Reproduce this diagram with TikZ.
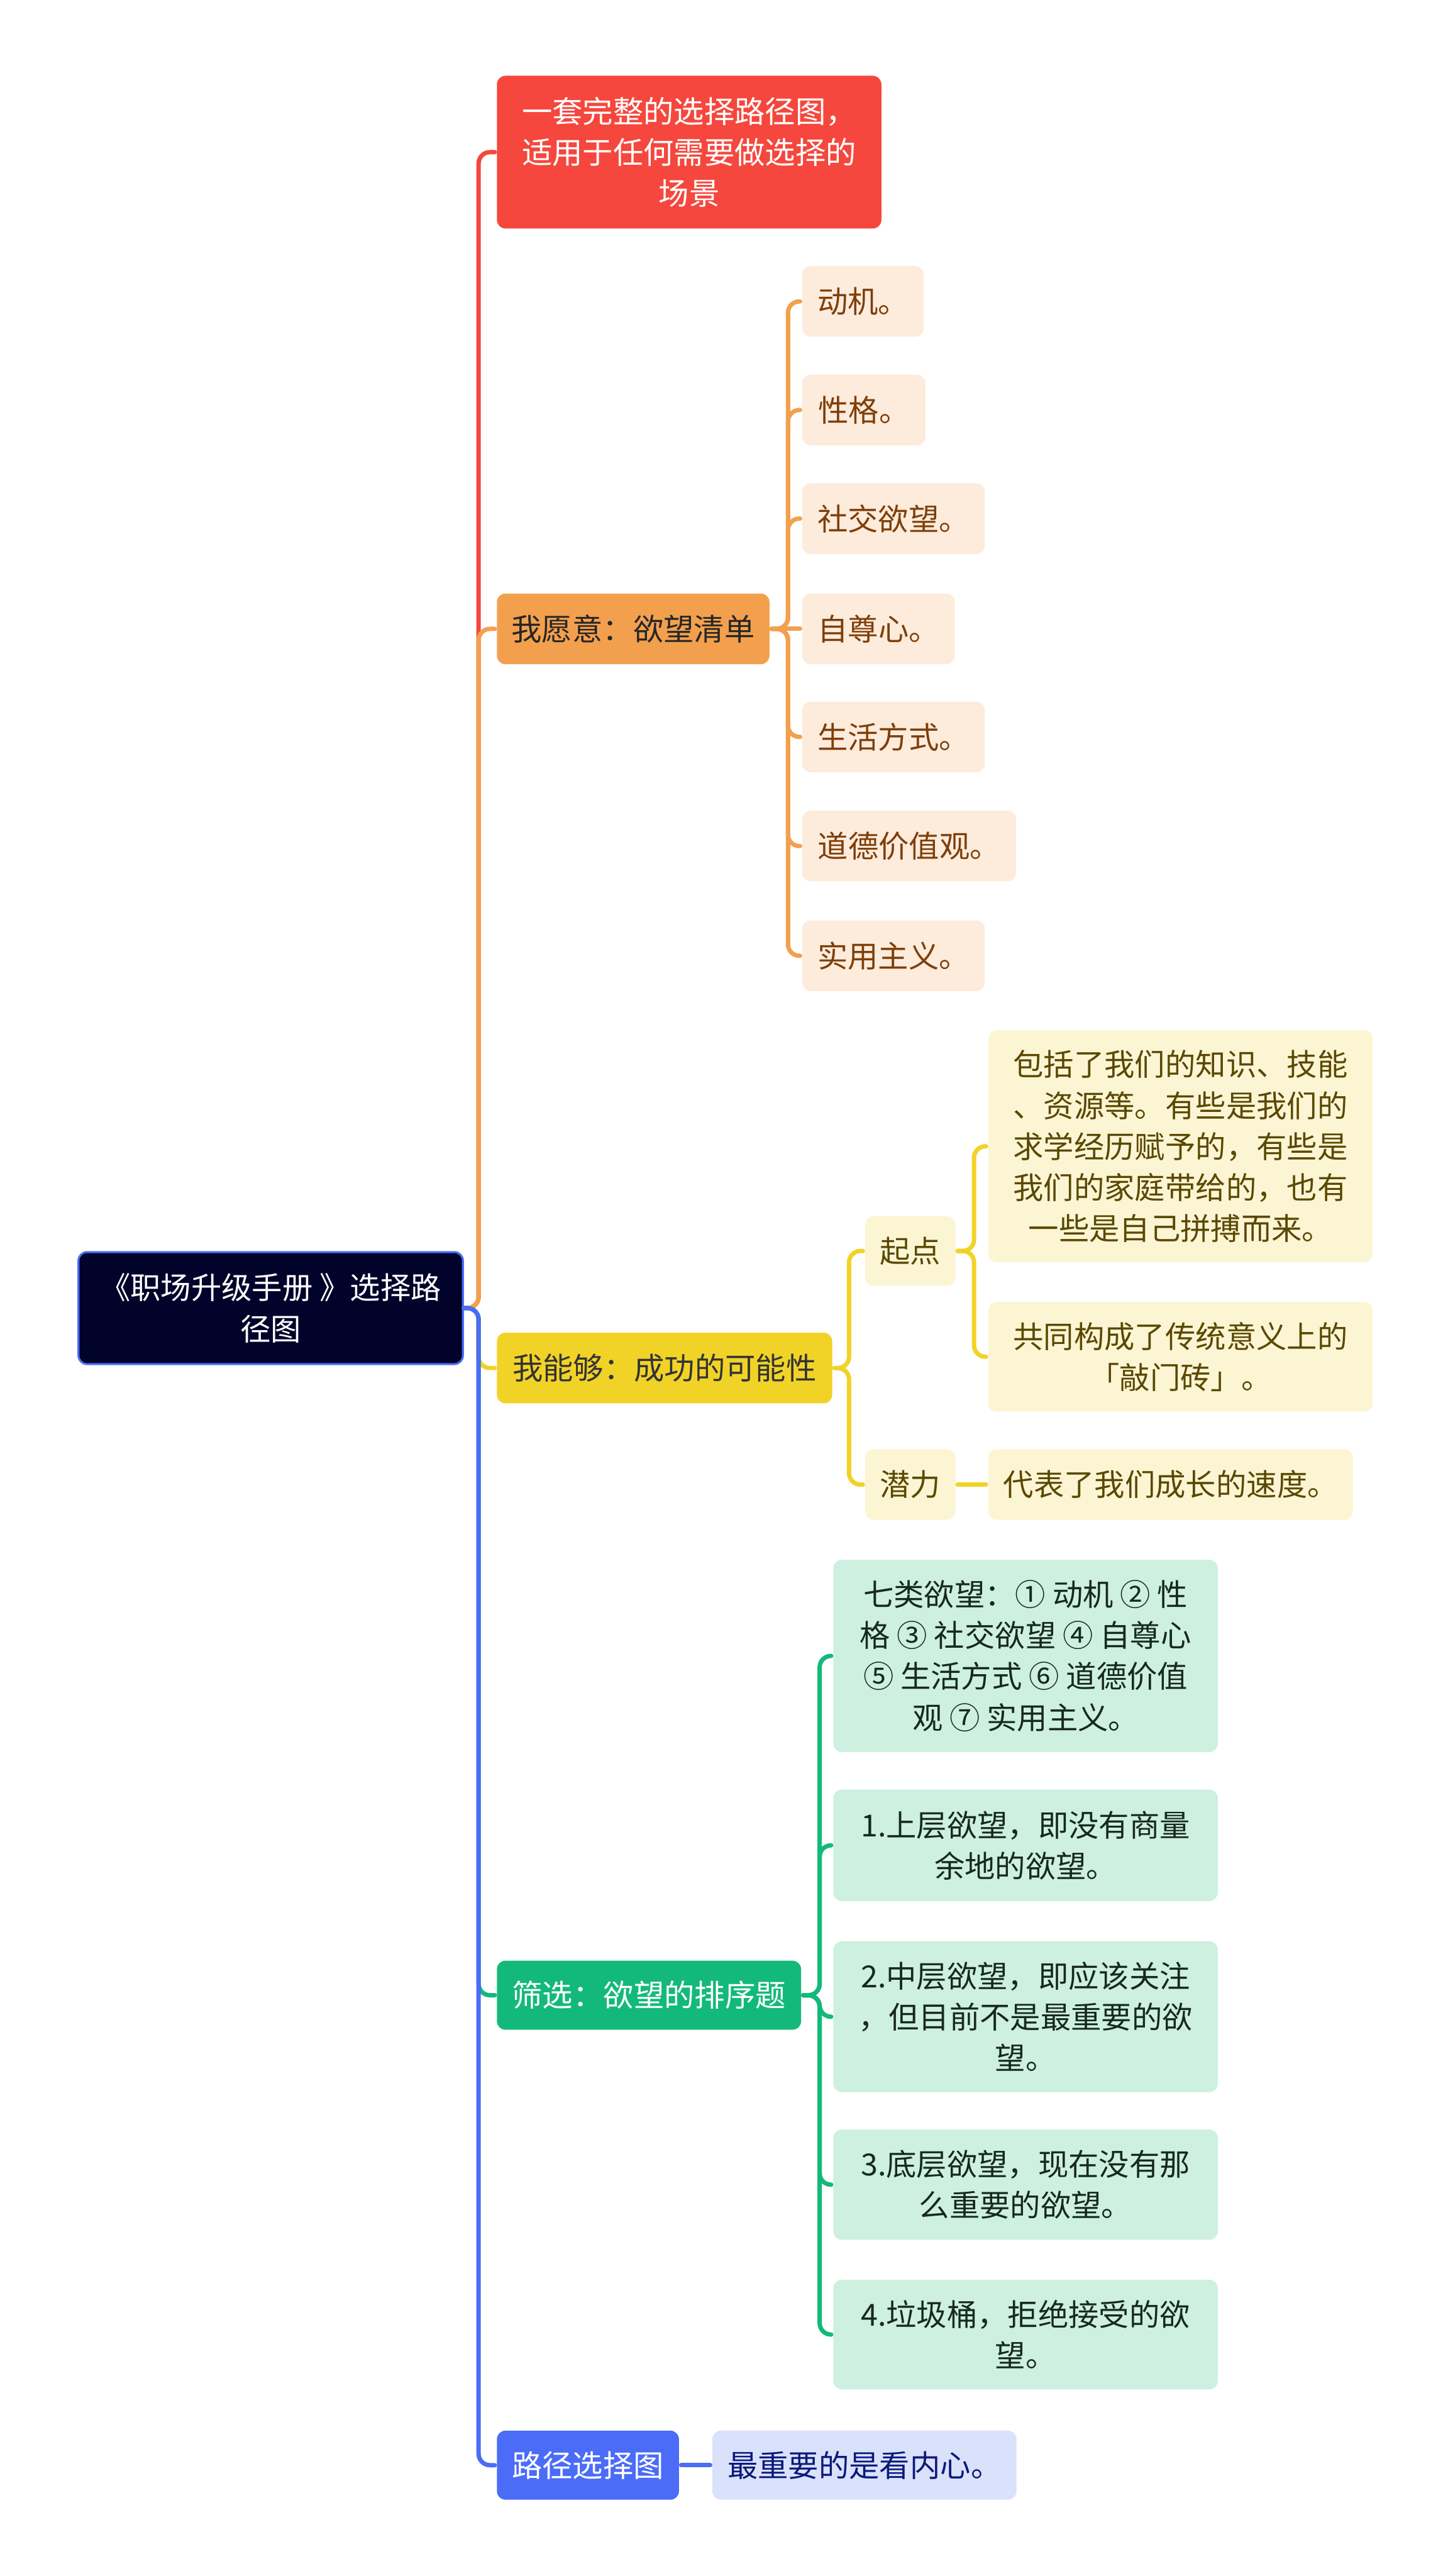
\documentclass[tikz,border=0pt]{standalone}
\usepackage{fontspec}
\newfontfamily\cjkfont{Noto Sans CJK SC}
\usepackage{tikz}
\usetikzlibrary{calc}
\definecolor{raiz}{HTML}{02032A}
\definecolor{rojo}{HTML}{F5473D}
\definecolor{naranja}{HTML}{F3A04E}
\definecolor{naranjaclaro}{HTML}{FDEBDC}
\definecolor{naranjatexto}{HTML}{7E3F0A}
\definecolor{amarillo}{HTML}{F1D327}
\definecolor{amarilloclaro}{HTML}{FBF5D4}
\definecolor{amarillotexto}{HTML}{5A4800}
\definecolor{verde}{HTML}{13B97B}
\definecolor{verdeclaro}{HTML}{CDF0E1}
\definecolor{verdetexto}{HTML}{17291F}
\definecolor{azul}{HTML}{4A6CF7}
\definecolor{azulclaro}{HTML}{DAE1FB}
\definecolor{azultexto}{HTML}{0B1A7A}

\begin{document}
\begin{tikzpicture}[line width=2.2pt,line cap=round,
  caja/.style={rounded corners=0.15cm,inner sep=0pt,align=center,anchor=west,
    font={\cjkfont\fontsize{15.3}{20.6}\selectfont}},
  rama/.style={rounded corners=0.2cm}]
  \useasboundingbox (0,0) rectangle (25.6,-45.55);
  % tema central
  \node[caja,fill=raiz,draw=azul,line width=1pt,text=white,minimum width=6.8cm,minimum height=1.98cm] (raiz) at (1.37,-23.13) {《职场升级手册 》选择路\\径图};
  % ramas principales
  \node[caja,fill=rojo,text=white,minimum width=6.8cm,minimum height=2.7cm] (titulo) at (8.75,-2.69) {一套完整的选择路径图，\\适用于任何需要做选择的\\场景};
  \node[caja,fill=naranja,text=black!85,minimum width=4.82cm,minimum height=1.25cm] (quiero) at (8.75,-11.12) {我愿意：欲望清单};
  \node[caja,fill=amarillo,text=black!80,minimum width=5.93cm,minimum height=1.25cm] (puedo) at (8.75,-24.19) {我能够：成功的可能性};
  \node[caja,fill=verde,text=white,minimum width=5.38cm,minimum height=1.22cm] (filtro) at (8.75,-35.28) {筛选：欲望的排序题};
  \node[caja,fill=azul,text=white,minimum width=3.22cm,minimum height=1.22cm] (camino) at (8.75,-43.59) {路径选择图};
  % deseos
  \foreach \n/\y/\w/\t in {d1/5.33/2.15/动机。,d2/7.25/2.18/性格。,d3/9.17/3.23/社交欲望。,d4/11.12/2.70/自尊心。,
      d5/13.03/3.23/生活方式。,d6/14.96/3.78/道德价值观。,d7/16.90/3.23/实用主义。}
    \node[caja,fill=naranjaclaro,text=naranjatexto,minimum width=\w cm,minimum height=1.25cm] (\n) at (14.15,-\y) {\t};
  % posibilidades
  \node[caja,fill=amarilloclaro,text=amarillotexto,minimum width=1.6cm,minimum height=1.23cm] (inicio) at (15.26,-22.12) {起点};
  \node[caja,fill=amarilloclaro,text=amarillotexto,minimum width=1.6cm,minimum height=1.25cm] (potencial) at (15.26,-26.25) {潜力};
  \node[caja,fill=amarilloclaro,text=amarillotexto,minimum width=6.8cm,minimum height=4.1cm] (inicio1) at (17.44,-20.27) {包括了我们的知识、技能\\、资源等。有些是我们的\\求学经历赋予的，有些是\\我们的家庭带给的，也有\\一些是自己拼搏而来。};
  \node[caja,fill=amarilloclaro,text=amarillotexto,minimum width=6.8cm,minimum height=1.94cm] (inicio2) at (17.44,-23.99) {共同构成了传统意义上的\\「敲门砖」。};
  \node[caja,fill=amarilloclaro,text=amarillotexto,minimum width=6.45cm,minimum height=1.25cm] (potencial1) at (17.44,-26.25) {代表了我们成长的速度。};
  % orden de deseos
  \node[caja,fill=verdeclaro,text=verdetexto,minimum width=6.8cm,minimum height=3.4cm] (f0) at (14.7,-29.28) {七类欲望：① 动机 ② 性\\格 ③ 社交欲望 ④ 自尊心\\⑤ 生活方式 ⑥ 道德价值\\观 ⑦ 实用主义。};
  \node[caja,fill=verdeclaro,text=verdetexto,minimum width=6.8cm,minimum height=1.97cm] (f1) at (14.7,-32.63) {1.上层欲望，即没有商量\\余地的欲望。};
  \node[caja,fill=verdeclaro,text=verdetexto,minimum width=6.8cm,minimum height=2.67cm] (f2) at (14.7,-35.66) {2.中层欲望，即应该关注\\，但目前不是最重要的欲\\望。};
  \node[caja,fill=verdeclaro,text=verdetexto,minimum width=6.8cm,minimum height=1.95cm] (f3) at (14.7,-38.63) {3.底层欲望，现在没有那\\么重要的欲望。};
  \node[caja,fill=verdeclaro,text=verdetexto,minimum width=6.8cm,minimum height=1.94cm] (f4) at (14.7,-41.28) {4.垃圾桶，拒绝接受的欲\\望。};
  \node[caja,fill=azulclaro,text=azultexto,minimum width=5.38cm,minimum height=1.22cm] (camino1) at (12.56,-43.59) {最重要的是看内心。};
  % conectores del tronco
  \draw[rama,rojo] (raiz.east) -- ++(0.26,0) |- (titulo.west);
  \draw[rama,naranja] (raiz.east) -- ++(0.26,0) |- (quiero.west);
  \draw[rama,amarillo] (raiz.east) -- ++(0.26,0) |- (puedo.west);
  \draw[rama,verde] (raiz.east) -- ++(0.26,0) |- (filtro.west);
  \draw[rama,azul] (raiz.east) -- ++(0.26,0) |- (camino.west);
  % conectores de las ramas
  \foreach \n in {d1,d2,d3,d5,d6,d7}
    \draw[rama,naranja] (quiero.east) -- ++(0.29,0) |- (\n.west);
  \draw[naranja] (quiero.east) -- (d4.west);
  \foreach \n in {inicio,potencial}
    \draw[rama,amarillo] (puedo.east) -- ++(0.26,0) |- (\n.west);
  \foreach \n in {inicio1,inicio2}
    \draw[rama,amarillo] (inicio.east) -- ++(0.29,0) |- (\n.west);
  \draw[amarillo] (potencial.east) -- (potencial1.west);
  \foreach \n in {f0,f1,f2,f3,f4}
    \draw[rama,verde] (filtro.east) -- ++(0.29,0) |- (\n.west);
  \draw[azul] (camino.east) -- (camino1.west);
\end{tikzpicture}
\end{document}
